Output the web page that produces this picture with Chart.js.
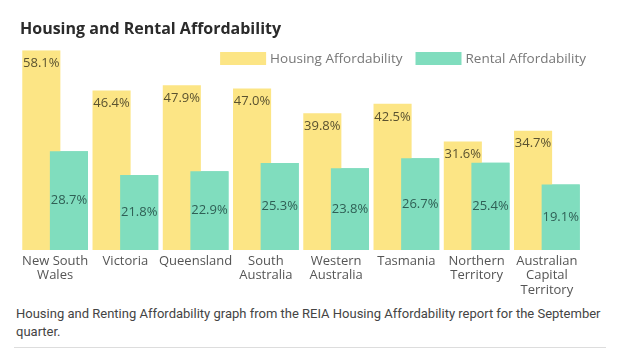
<!DOCTYPE html>
<html>
<head>
<meta charset="utf-8">
<script src="https://cdn.jsdelivr.net/npm/chart.js@4"></script>
<style>
    body { margin: 0; background: #fff; width: 617px; height: 350px; overflow: hidden; }
    .canvasDiv { position: absolute; left: 0; top: 0; width: 617px; height: 305px; }
    .caption {
        position: absolute; left: 16px; top: 305px; width: 595px;
        font-family: Roboto, sans-serif; font-size: 13px; line-height: 18px; color: #444;
    }
    .rule { position: absolute; left: 14px; top: 347px; width: 592px; height: 1px; background: #ddd; }
</style>
</head>
<body>
<div class="canvasDiv">
    <canvas id="bar-chart" width="617" height="305"></canvas>
</div>
<div class="caption">Housing and Renting Affordability graph from the REIA Housing Affordability report for the September quarter.</div>
<div class="rule"></div>

<script>
    var states = [
        ["New South", "Wales"],
        "Victoria",
        "Queensland",
        ["South", "Australia"],
        ["Western", "Australia"],
        "Tasmania",
        ["Northern", "Territory"],
        ["Australian", "Capital", "Territory"]
    ];
    var housingValues = [58.1, 46.4, 47.9, 47.0, 39.8, 42.5, 31.6, 34.7];
    var rentalValues = [28.7, 21.8, 22.9, 25.3, 23.8, 26.7, 25.4, 19.1];

    var fontFamily = "'Open Sans', sans-serif";

    // chart.js paints dataset 0 last; repaint the rental bars so they sit in front
    var rentalOnTop = {
        id: "rentalOnTop",
        afterDatasetsDraw: function (chart) {
            var area = chart.chartArea;
            var ctx = chart.ctx;
            ctx.save();
            ctx.beginPath();
            ctx.rect(area.left, area.top, area.right - area.left, area.bottom - area.top);
            ctx.clip();
            chart.getDatasetMeta(1).controller.draw();
            ctx.restore();
        }
    };

    // labels on the bars: housing near the top, rental in the middle
    var barLabels = {
        id: "barLabels",
        afterDatasetsDraw: function (chart) {
            var ctx = chart.ctx;
            ctx.save();
            ctx.font = "13px " + fontFamily;
            ctx.textAlign = "center";
            ctx.textBaseline = "middle";
            chart.data.datasets.forEach(function (ds, i) {
                chart.getDatasetMeta(i).data.forEach(function (bar, j) {
                    var y = i === 0 ? bar.y + 13 : (bar.y + bar.base) / 2;
                    ctx.fillStyle = ds.labelColor;
                    ctx.fillText(ds.data[j].toFixed(1) + "%", bar.x, y);
                });
            });
            ctx.restore();
        }
    };

    // legend drawn inside the plot, top right
    var insideLegend = {
        id: "insideLegend",
        afterDraw: function (chart) {
            var ctx = chart.ctx;
            var area = chart.chartArea;
            ctx.save();
            ctx.font = "13.5px " + fontFamily;
            ctx.textBaseline = "middle";
            var boxW = 46, boxH = 13, gap = 4, itemGap = 13;
            var total = 0;
            chart.data.datasets.forEach(function (ds, i) {
                total += boxW + gap + ctx.measureText(ds.label).width + (i > 0 ? itemGap : 0);
            });
            var x = area.right + 4 - total;
            var yc = 58.5;
            chart.data.datasets.forEach(function (ds, i) {
                if (i > 0) x += itemGap;
                ctx.fillStyle = ds.backgroundColor;
                ctx.fillRect(x, yc - boxH / 2, boxW, boxH);
                x += boxW + gap;
                ctx.fillStyle = "#777";
                ctx.fillText(ds.label, x, yc + 1);
                x += ctx.measureText(ds.label).width;
            });
            ctx.restore();
        }
    };

    new Chart(document.getElementById("bar-chart"), {
        type: "bar",
        data: {
            labels: states,
            datasets: [
                {
                    label: "Housing Affordability",
                    data: housingValues,
                    backgroundColor: "#fce585",
                    labelColor: "#5a5230",
                    categoryPercentage: 0.786,
                    barPercentage: 1.38
                },
                {
                    label: "Rental Affordability",
                    data: rentalValues,
                    backgroundColor: "#80ddbe",
                    labelColor: "#2f5f55",
                    categoryPercentage: 0.786,
                    barPercentage: 1.38
                }
            ]
        },
        options: {
            responsive: false,
            animation: false,
            layout: {padding: {left: 20, right: 35, top: 0, bottom: 4}},
            plugins: {
                legend: {display: false},
                tooltip: {enabled: false},
                title: {
                    display: true,
                    text: "Housing and Rental Affordability",
                    align: "start",
                    color: "#2b2b2b",
                    font: {family: fontFamily, size: 16, weight: "bold", lineHeight: 1.2},
                    padding: {top: 20, bottom: 11}
                }
            },
            scales: {
                x: {
                    grid: {display: false, drawTicks: false},
                    border: {display: false},
                    ticks: {
                        color: "#555",
                        padding: 4,
                        maxRotation: 0,
                        autoSkip: false,
                        font: {family: fontFamily, size: 13, lineHeight: 1.1}
                    }
                },
                y: {
                    display: false,
                    min: 0,
                    max: 58.1
                }
            }
        },
        plugins: [rentalOnTop, barLabels, insideLegend]
    });
</script>
</body>
</html>
